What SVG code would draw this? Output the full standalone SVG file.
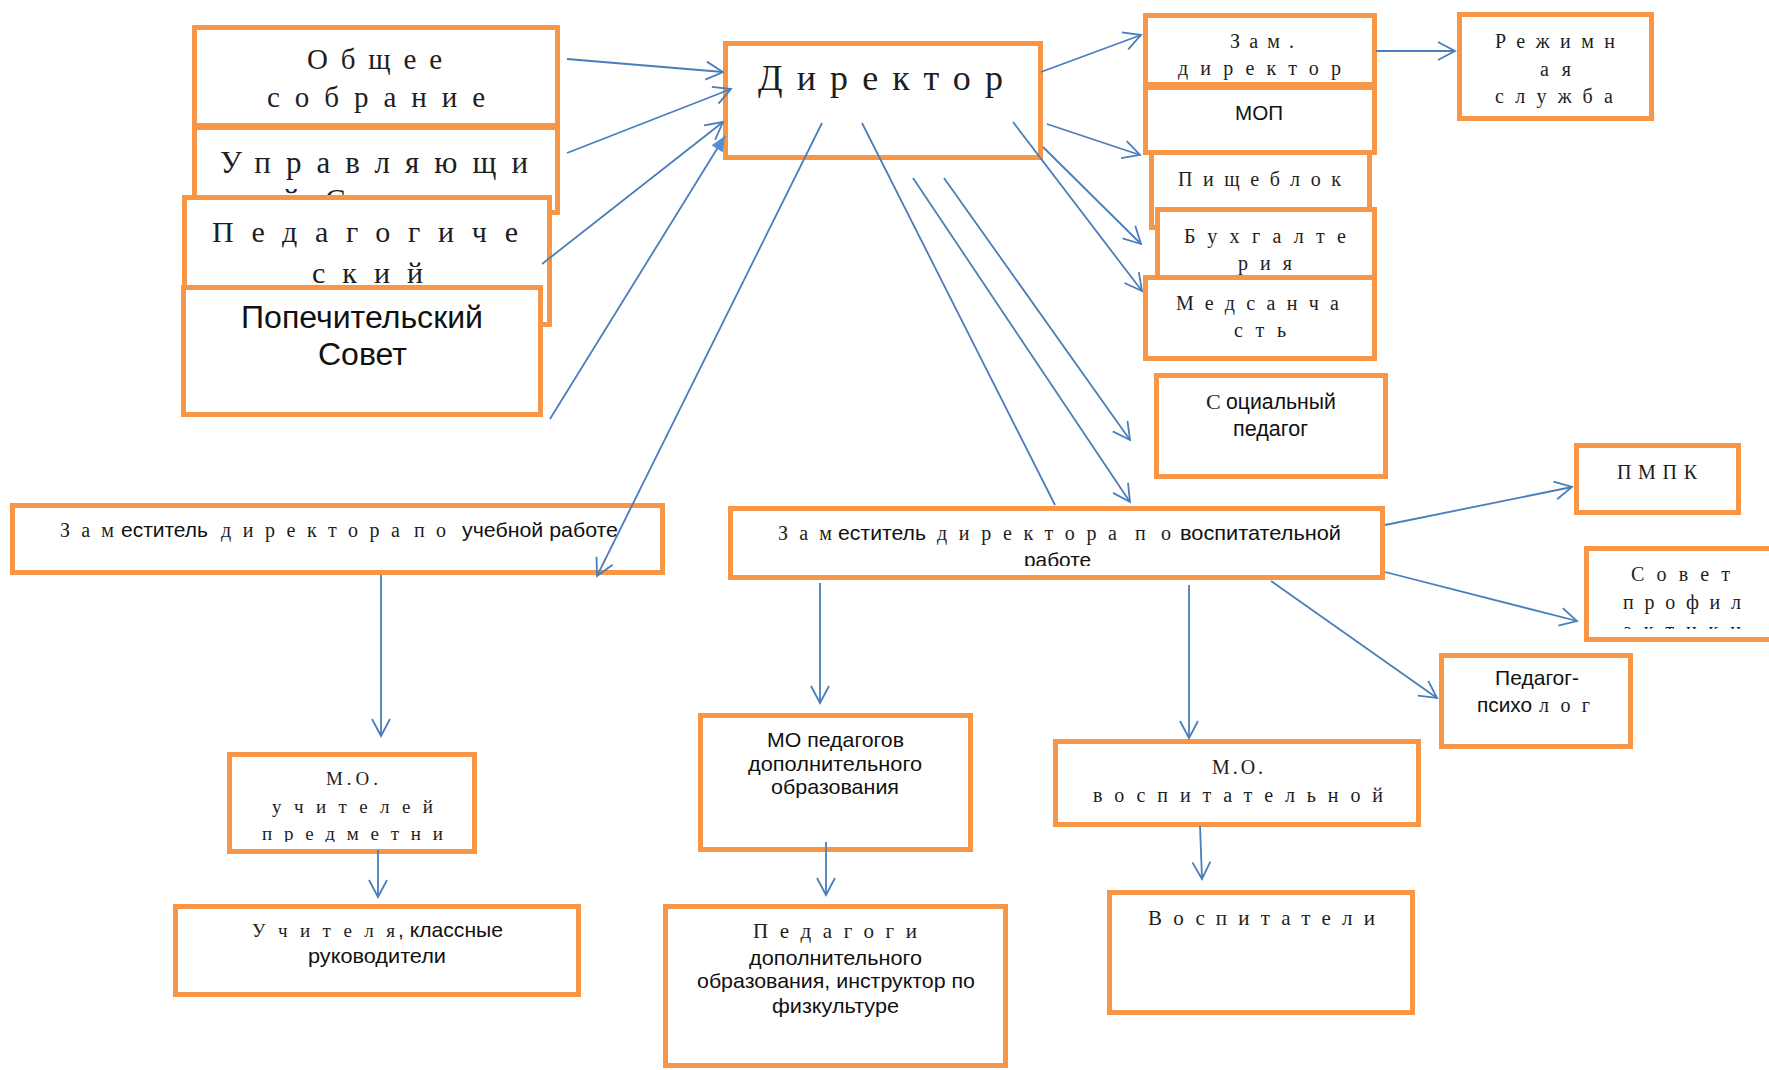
<svg xmlns="http://www.w3.org/2000/svg" width="1769" height="1070" viewBox="0 0 1769 1070">
<style>
.box{fill:#fff;stroke:#F79646;stroke-width:5}
.sr{font-family:"Liberation Serif","DejaVu Serif",serif;fill:#1e1e1e}
.ss{font-family:"Liberation Sans",Arial,sans-serif;fill:#111}
.ln{fill:none;stroke:#4A7EBB;stroke-width:1.8}
.arr{marker-end:url(#open)}
</style>
<defs>
<marker id="open" markerUnits="userSpaceOnUse" markerWidth="24" markerHeight="24" viewBox="0 0 24 24" refX="20" refY="12" orient="auto">
<path d="M3,3 L20,12 L3,21" fill="none" stroke="#4A7EBB" stroke-width="1.8"/>
</marker>
<marker id="tri" markerUnits="userSpaceOnUse" markerWidth="20" markerHeight="20" viewBox="0 0 20 20" refX="18" refY="10" orient="auto">
<path d="M3,3.5 L18,10 L3,16.5 z" fill="#558ED5"/>
</marker>
<clipPath id="cpSovet"><rect x="1586" y="548" width="200" height="81"/></clipPath>
<clipPath id="cpMOu"><rect x="229" y="754" width="246" height="88"/></clipPath>
<clipPath id="cpZamV"><rect x="730" y="508" width="653" height="58"/></clipPath>
</defs>

<g id="obshchee-sobranie">
<rect class="box" x="194.5" y="27.5" width="363" height="98"/>
<text class="sr" font-size="29"><tspan x="307" y="69" textLength="135" lengthAdjust="spacing">Общее</tspan> <tspan x="267" y="107" textLength="218" lengthAdjust="spacing">собрание</tspan></text>
</g>
<g id="upravlyayushchiy-sovet">
<rect class="box" x="194.5" y="127.5" width="363" height="85"/>
<text class="sr" font-size="31"><tspan x="220" y="173" textLength="308" lengthAdjust="spacing">Управляющи</tspan><tspan x="283" y="211">й</tspan> <tspan x="325" y="211" textLength="150" lengthAdjust="spacing">Совет</tspan></text>
</g>
<g id="pedagogicheskiy-sovet">
<rect class="box" x="184.5" y="197.5" width="365" height="127"/>
<text class="sr" font-size="30"><tspan x="212" y="242" textLength="306" lengthAdjust="spacing">Педагогиче</tspan><tspan x="312" y="283" textLength="111" lengthAdjust="spacing">ский</tspan></text>
</g>
<g id="popechitelskiy-sovet">
<rect class="box" x="183.5" y="287.5" width="357" height="127"/>
<text class="ss" font-size="31"><tspan x="241" y="328" textLength="242" lengthAdjust="spacingAndGlyphs">Попечительский</tspan> <tspan x="318" y="365" textLength="89" lengthAdjust="spacingAndGlyphs">Совет</tspan></text>
</g>

<g id="direktor">
<rect class="box" x="725.5" y="43.5" width="315" height="114"/>
<text class="sr" font-size="36" x="758" y="90" textLength="245" lengthAdjust="spacing">Директор</text>
</g>

<g id="zam-direktor">
<rect class="box" x="1145.5" y="15.5" width="229" height="69"/>
<text class="sr" font-size="20"><tspan x="1230" y="48" textLength="64" lengthAdjust="spacing">Зам.</tspan> <tspan x="1178" y="75" textLength="163" lengthAdjust="spacing">директор</tspan></text>
</g>
<g id="mop">
<rect class="box" x="1145.5" y="87.5" width="229" height="65"/>
<text class="ss" font-size="21" x="1235" y="120" textLength="48" lengthAdjust="spacingAndGlyphs">МОП</text>
</g>
<g id="pishcheblok">
<rect class="box" x="1151.5" y="152.5" width="218" height="75"/>
<text class="sr" font-size="20" x="1178" y="186" textLength="163" lengthAdjust="spacing">Пищеблок</text>
</g>
<g id="bukhgalteriya">
<rect class="box" x="1157.5" y="209.5" width="217" height="73"/>
<text class="sr" font-size="20"><tspan x="1184" y="243" textLength="162" lengthAdjust="spacing">Бухгалте</tspan><tspan x="1238" y="270" textLength="54" lengthAdjust="spacing">рия</tspan></text>
</g>
<g id="medsanchast">
<rect class="box" x="1145.5" y="277.5" width="229" height="81"/>
<text class="sr" font-size="20"><tspan x="1176" y="310" textLength="163" lengthAdjust="spacing">Медсанча</tspan><tspan x="1234" y="337" textLength="52" lengthAdjust="spacing">сть</tspan></text>
</g>
<g id="rezhimnaya-sluzhba">
<rect class="box" x="1459.5" y="14.5" width="192" height="104"/>
<text class="sr" font-size="20"><tspan x="1495" y="48" textLength="120" lengthAdjust="spacing">Режимн</tspan><tspan x="1540" y="76" textLength="31" lengthAdjust="spacing">ая</tspan> <tspan x="1495" y="103" textLength="118" lengthAdjust="spacing">служба</tspan></text>
</g>
<g id="sotsialnyy-pedagog">
<rect class="box" x="1156.5" y="375.5" width="229" height="101"/>
<text class="ss" font-size="22"><tspan class="sr" x="1206" y="409">С</tspan><tspan x="1226" y="409" textLength="110" lengthAdjust="spacingAndGlyphs">оциальный</tspan> <tspan x="1233" y="436" textLength="75" lengthAdjust="spacingAndGlyphs">педагог</tspan></text>
</g>
<g id="pmpk">
<rect class="box" x="1576.5" y="445.5" width="162" height="67"/>
<text class="sr" font-size="20" x="1617" y="479" textLength="80" lengthAdjust="spacing">ПМПК</text>
</g>
<g id="sovet-profilaktiki">
<rect class="box" x="1586.5" y="548.5" width="200" height="91"/>
<text class="sr" font-size="20" clip-path="url(#cpSovet)"><tspan x="1631" y="581" textLength="99" lengthAdjust="spacing">Совет</tspan> <tspan x="1623" y="609" textLength="118" lengthAdjust="spacing">профил</tspan><tspan x="1623" y="637" textLength="118" lengthAdjust="spacing">актики</tspan></text>
</g>
<g id="pedagog-psikholog">
<rect class="box" x="1441.5" y="655.5" width="189" height="91"/>
<text font-size="21"><tspan class="ss" x="1495" y="685" textLength="84" lengthAdjust="spacingAndGlyphs">Педагог-</tspan><tspan class="ss" x="1477" y="712" textLength="55" lengthAdjust="spacingAndGlyphs">психо</tspan><tspan class="sr" font-size="20" x="1539" y="712" textLength="51" lengthAdjust="spacing">лог</tspan></text>
</g>

<g id="zam-uchebnoy">
<rect class="box" x="12.5" y="505.5" width="650" height="67"/>
<text y="537" font-size="20"><tspan class="sr" x="60" textLength="54" lengthAdjust="spacing">Зам</tspan><tspan class="ss" font-size="21" x="121" textLength="87" lengthAdjust="spacingAndGlyphs">еститель</tspan> <tspan class="sr" x="221" textLength="179" lengthAdjust="spacing">директора</tspan> <tspan class="sr" x="414" textLength="32" lengthAdjust="spacing">по</tspan> <tspan class="ss" font-size="21" x="462" textLength="156" lengthAdjust="spacingAndGlyphs">учебной работе</tspan></text>
</g>
<g id="zam-vospitatelnoy">
<rect class="box" x="730.5" y="508.5" width="652" height="69"/>
<text font-size="20" clip-path="url(#cpZamV)"><tspan class="sr" x="778" y="540" textLength="54" lengthAdjust="spacing">Зам</tspan><tspan class="ss" font-size="21" x="838" textLength="88" lengthAdjust="spacingAndGlyphs">еститель</tspan> <tspan class="sr" x="937" textLength="180" lengthAdjust="spacing">директора</tspan> <tspan class="sr" x="1135" textLength="36" lengthAdjust="spacing">по</tspan> <tspan class="ss" font-size="21" x="1180" textLength="161" lengthAdjust="spacingAndGlyphs">воспитательной</tspan> <tspan class="ss" font-size="21" x="1024" y="567" textLength="67" lengthAdjust="spacingAndGlyphs">работе</tspan></text>
</g>

<g id="mo-uchiteley">
<rect class="box" x="229.5" y="754.5" width="245" height="97"/>
<text class="sr" font-size="19" clip-path="url(#cpMOu)"><tspan x="326" y="785" textLength="52" lengthAdjust="spacing">М.О.</tspan> <tspan x="272" y="813" textLength="161" lengthAdjust="spacing">учителей</tspan> <tspan x="262" y="840" textLength="181" lengthAdjust="spacing">предметни</tspan></text>
</g>
<g id="uchitelya">
<rect class="box" x="175.5" y="906.5" width="403" height="88"/>
<text font-size="21"><tspan class="sr" font-size="19" x="252" y="937" textLength="143" lengthAdjust="spacing">Учителя</tspan><tspan class="ss" x="398" y="937" textLength="105" lengthAdjust="spacingAndGlyphs">, классные</tspan> <tspan class="ss" x="308" y="963" textLength="138" lengthAdjust="spacingAndGlyphs">руководители</tspan></text>
</g>
<g id="mo-pedagogov-do">
<rect class="box" x="700.5" y="715.5" width="270" height="134"/>
<text class="ss" font-size="21"><tspan x="767" y="747" textLength="137" lengthAdjust="spacingAndGlyphs">МО педагогов</tspan> <tspan x="748" y="771" textLength="174" lengthAdjust="spacingAndGlyphs">дополнительного</tspan> <tspan x="771" y="794" textLength="128" lengthAdjust="spacingAndGlyphs">образования</tspan></text>
</g>
<g id="pedagogi-do">
<rect class="box" x="665.5" y="906.5" width="340" height="159"/>
<text font-size="21"><tspan class="sr" x="753" y="938" textLength="164" lengthAdjust="spacing">Педагоги</tspan> <tspan class="ss" x="749" y="965" textLength="173" lengthAdjust="spacingAndGlyphs">дополнительного</tspan> <tspan class="ss" x="697" y="988" textLength="278" lengthAdjust="spacingAndGlyphs">образования, инструктор по</tspan> <tspan class="ss" x="772" y="1013" textLength="127" lengthAdjust="spacingAndGlyphs">физкультуре</tspan></text>
</g>
<g id="mo-vospitatelnoy">
<rect class="box" x="1055.5" y="741.5" width="363" height="83"/>
<text class="sr" font-size="20"><tspan x="1212" y="774" textLength="51" lengthAdjust="spacing">М.О.</tspan> <tspan x="1093" y="802" textLength="290" lengthAdjust="spacing">воспитательной</tspan></text>
</g>
<g id="vospitateli">
<rect class="box" x="1109.5" y="892.5" width="303" height="120"/>
<text class="sr" font-size="21" x="1148" y="925" textLength="227" lengthAdjust="spacing">Воспитатели</text>
</g>

<g id="connectors">
<line class="ln arr" x1="567" y1="59" x2="723" y2="72"/>
<line class="ln arr" x1="567" y1="153" x2="731" y2="89"/>
<line class="ln arr" x1="542" y1="264" x2="723" y2="122"/>
<line class="ln" x1="550" y1="419" x2="725" y2="136" stroke="#558ED5" marker-end="url(#tri)"/>
<line class="ln arr" x1="822" y1="123" x2="597" y2="576"/>
<line class="ln" x1="862" y1="123" x2="1055" y2="505"/>
<line class="ln arr" x1="913" y1="178" x2="1130" y2="502"/>
<line class="ln arr" x1="944" y1="178" x2="1130" y2="440"/>
<line class="ln arr" x1="1041" y1="72" x2="1141" y2="35"/>
<line class="ln arr" x1="1047" y1="124" x2="1140" y2="155"/>
<line class="ln arr" x1="1043" y1="147" x2="1141" y2="244"/>
<line class="ln arr" x1="1013" y1="122" x2="1142" y2="291"/>
<line class="ln arr" x1="1376" y1="51" x2="1455" y2="51"/>
<line class="ln arr" x1="381" y1="575" x2="381" y2="736"/>
<line class="ln arr" x1="378" y1="850" x2="378" y2="897"/>
<line class="ln arr" x1="820" y1="583" x2="820" y2="703"/>
<line class="ln arr" x1="826" y1="842" x2="826" y2="895"/>
<line class="ln arr" x1="1189" y1="585" x2="1189" y2="738"/>
<line class="ln arr" x1="1200" y1="826" x2="1202" y2="879"/>
<line class="ln arr" x1="1385" y1="525" x2="1572" y2="487"/>
<line class="ln arr" x1="1385" y1="572" x2="1577" y2="621"/>
<line class="ln arr" x1="1271" y1="581" x2="1437" y2="698"/>
</g>
</svg>
